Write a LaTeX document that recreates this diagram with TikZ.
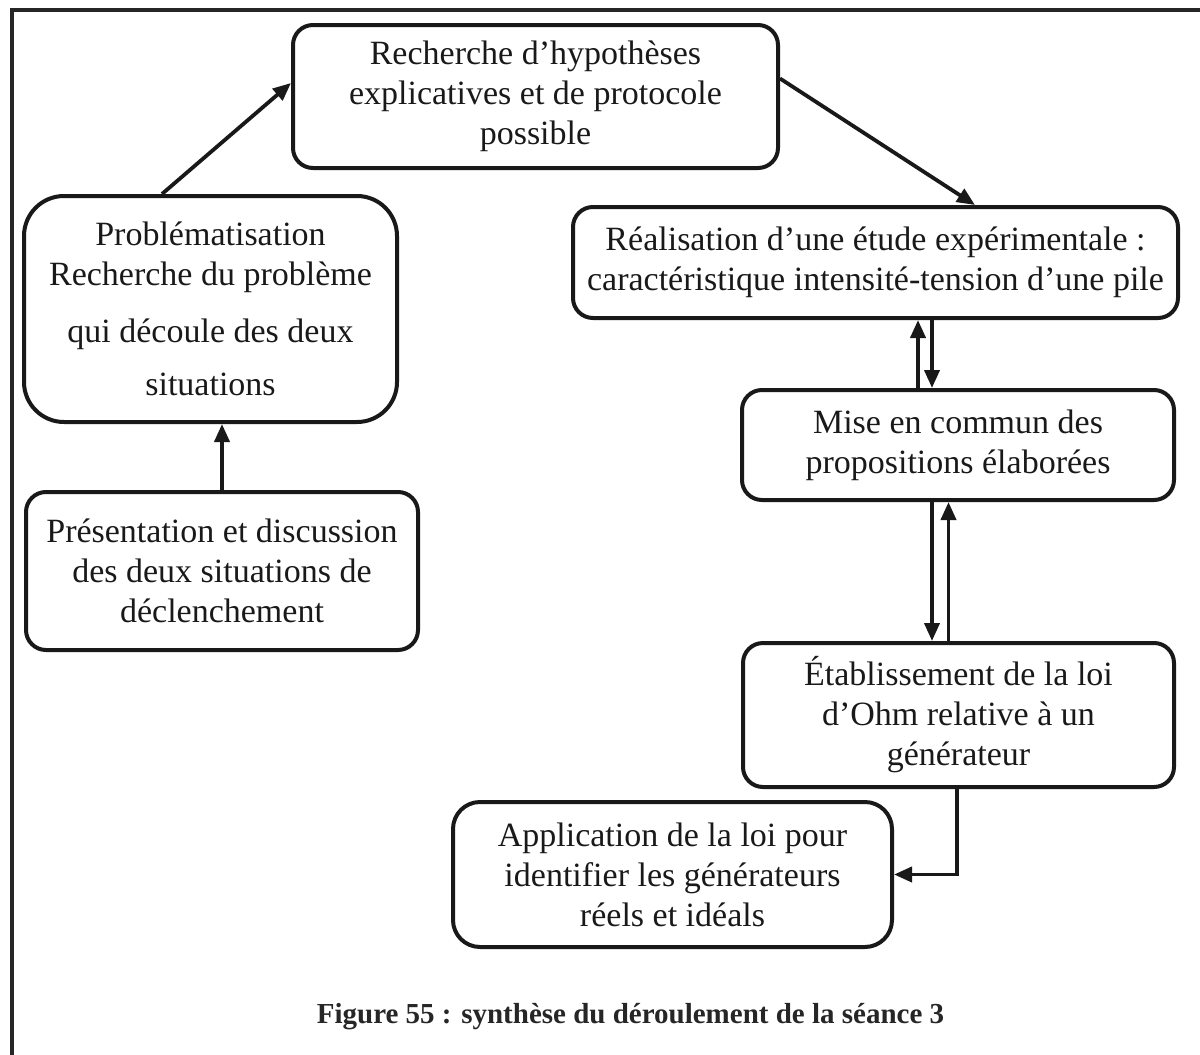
\documentclass[tikz,border=0pt]{standalone}
\usepackage{fontspec}
\setmainfont{Liberation Serif}
\usetikzlibrary{arrows.meta}
\begin{document}
\begin{tikzpicture}[x=1pt,y=1pt,
  stepbox/.style={draw=black!90, line width=4pt, rounded corners=20pt, inner sep=0pt,
    align=center, font=\fontsize{34}{40}\selectfont, text=black!90},
  arr/.style={draw=black!90, line width=3.8pt, -{Triangle[length=18pt,width=15pt]}},
  frameline/.style={draw=black!85, line width=4pt}]
\useasboundingbox (0,0) rectangle (1200,-1055);
\draw[frameline] (12,-1055) -- (12,-10) -- (1200,-10);

\node[stepbox, minimum width=485pt, minimum height=143pt] (b1) at (535.5,-96.5)
  {Recherche d’hypothèses\\explicatives et de protocole\\possible};
\node[stepbox, rounded corners=40pt, minimum width=373pt, minimum height=226pt] (b2) at (210.5,-309)
  {Problématisation\\Recherche du problème\\[17pt]qui découle des deux\\[13pt]situations};
\node[stepbox, minimum width=392pt, minimum height=158pt] (b3) at (222,-571)
  {Présentation et discussion\\des deux situations de\\déclenchement};
\node[stepbox, minimum width=605pt, minimum height=111pt] (b4) at (875.5,-262.5)
  {Réalisation d’une étude expérimentale :\\caractéristique intensité-tension d’une pile};
\node[stepbox, minimum width=432pt, minimum height=110pt] (b5) at (958,-445)
  {Mise en commun des\\propositions élaborées};
\node[stepbox, minimum width=431pt, minimum height=144pt] (b6) at (958.5,-715)
  {Établissement de la loi\\d’Ohm relative à un\\générateur};
\node[stepbox, rounded corners=27pt, minimum width=439pt, minimum height=145pt] (b7) at (672.5,-874.5)
  {Application de la loi pour\\identifier les générateurs\\réels et idéals};

\node[font=\fontsize{29}{34}\bfseries\selectfont, text=black!85, anchor=base] (cap) at (630.5,-1023)
  {Figure 55 : synthèse du déroulement de la séance 3};

\draw[arr] ([xshift=-48.5pt]b2.north) -- ([yshift=13.5pt]b1.west);
\draw[arr] ([yshift=18pt]b1.east) -- ([xshift=99.5pt]b4.north);
\draw[arr] (b3.north) -- (b3.north |- b2.south);
\draw[arr] ([xshift=-40pt]b5.north) -- ([xshift=-40pt]b5.north |- b4.south);
\draw[arr] ([xshift=-26pt]b5.north |- b4.south) -- ([xshift=-26pt]b5.north);
\draw[arr] ([xshift=-26pt]b5.south) -- ([xshift=-26pt]b5.south |- b6.north);
\draw[arr] ([xshift=-10pt]b6.north) -- ([xshift=-10pt]b6.north |- b5.south);
\draw[arr] ([xshift=-1.5pt]b6.south) |- (b7.east);
\end{tikzpicture}
\end{document}
